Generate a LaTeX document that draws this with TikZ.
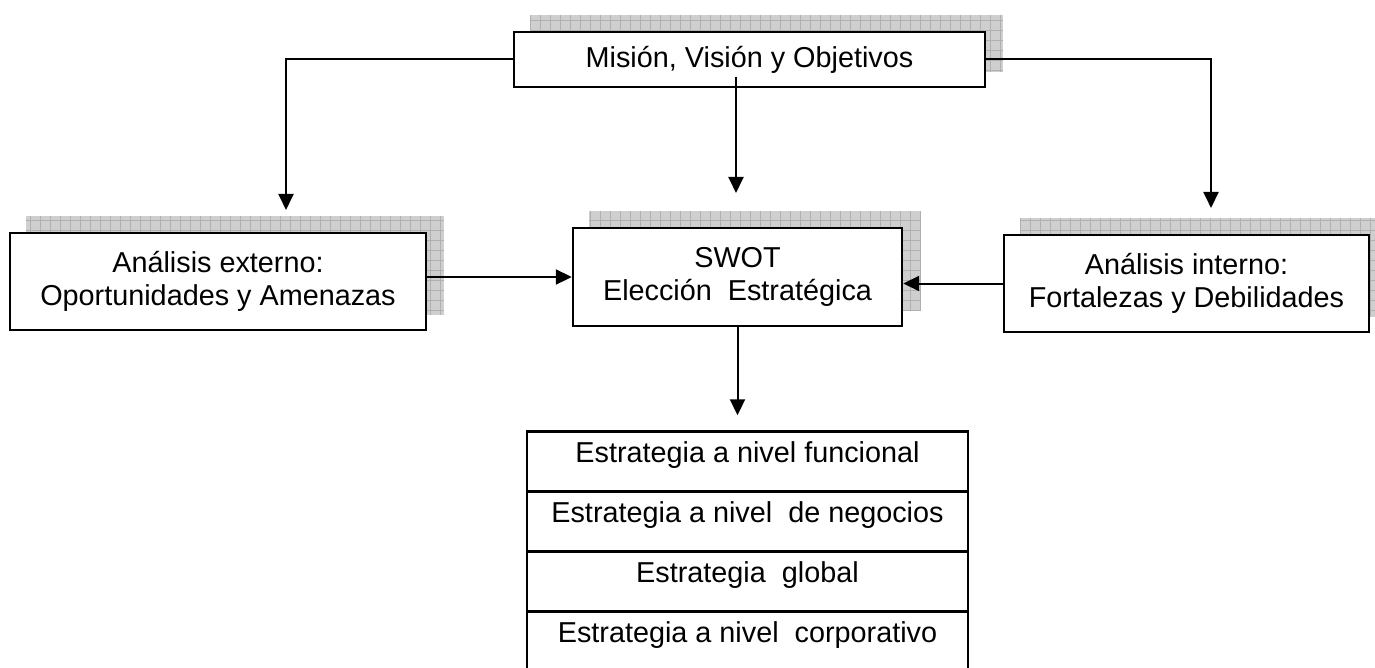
\documentclass[tikz,border=0pt]{standalone}
\usepackage{fontspec}
\setmainfont{Liberation Sans}
\usetikzlibrary{
  arrows.meta,
  chains,
  positioning,
  scopes,
  backgrounds
}

\begin{document}
\begin{tikzpicture}[
      x=0.5pt,y=-0.5pt,
      caja/.style={
         rectangle,
         draw=black,
         line width=1.2pt,
         fill=white,
         inner sep=0pt,
         align=center,
         font=\fontsize{14.4}{16.5}\selectfont
      },
      fila/.style={
         caja,
         minimum width=220.5pt,
         text height=15.5pt,
         text depth=14.5pt
      },
      sombra/.style={fill=gray!38},
      rejilla/.style={draw=gray!62,line width=0.45pt,step=5pt},
      point/.style={coordinate},
      >={Triangle[length=8pt,width=7.5pt]},line width=1pt,
      tip/.style={->,shorten >=0.007pt},
      hv path/.style={to path={-| (\tikztotarget)}},
      vh path/.style={to path={|- (\tikztotarget)}}
    ]
    \useasboundingbox (0,0) rectangle (1375,668);

    \node (mision) [caja, minimum width=235.5pt, minimum height=27.5pt] at (749.5,59.5)
       {Misión, Visión y Objetivos};
    \node (externo) [caja, minimum width=208pt, minimum height=48.5pt] at (218,281.5)
       {Análisis externo:\\Oportunidades y Amenazas};
    \node (swot) [caja, minimum width=164.5pt, minimum height=49pt] at (737.5,277)
       {SWOT\\Elección\ \ Estratégica};
    \node (interno) [caja, minimum width=182.5pt, minimum height=48.5pt] at (1186.5,283.5)
       {Análisis interno:\\Fortalezas y Debilidades};

    \node (nivel1) [fila] at (747.5,461.5) {Estrategia a nivel funcional};
    \node (nivel2) [fila, below=-1.2pt of nivel1] {Estrategia a nivel\ \ de negocios};
    \node (nivel3) [fila, below=-1.2pt of nivel2] {Estrategia\ \ global};
    \node (nivel4) [fila, below=-1.2pt of nivel3] {Estrategia a nivel\ \ corporativo};

    \node (tipL) [point] at (286,210) {};
    \node (tipR) [point] at (1211,208) {};
    \node (startC) [point] at (736,77) {};
    \node (tipC) [point] at (736,193) {};
  { [start chain]
       \chainin (mision);
       \chainin (tipL)    [join=by {hv path,tip}];
  }
  { [start chain]
       \chainin (mision);
       \chainin (tipR)    [join=by {hv path,tip}];
  }
  { [start chain]
       \chainin (startC);
       \chainin (tipC)    [join=by tip];
  }
    \draw[tip] (externo.east |- swot.west) -- (swot.west);
    \draw[tip] (interno.west) -- (interno.west -| swot.east);
    \draw[tip,shorten >=7.5pt] (swot.south) -- (swot.south |- nivel1.north);

    % sombras cuadriculadas
    \begin{scope}[on background layer]
      \foreach \n in {mision,externo,swot,interno} {
        \fill[sombra] ([shift={(8.5pt,8pt)}]\n.south west) rectangle ([shift={(8.5pt,8pt)}]\n.north east);
        \draw[rejilla] ([shift={(8.5pt,8pt)}]\n.south west) grid ([shift={(8.5pt,8pt)}]\n.north east);
      }
    \end{scope}
\end{tikzpicture}
\end{document}
